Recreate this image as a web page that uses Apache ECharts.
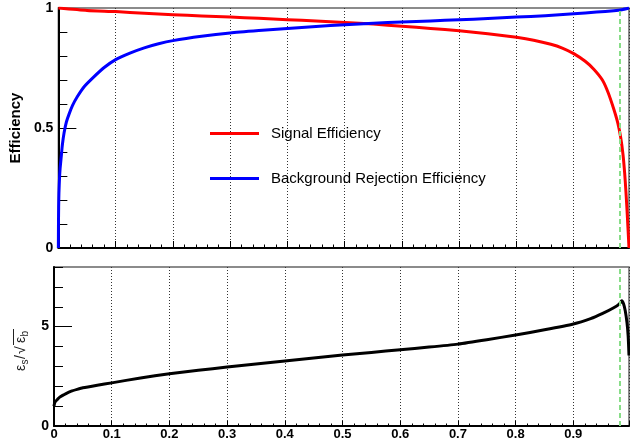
<!DOCTYPE html>
<html><head><meta charset="utf-8">
<script src="https://cdn.jsdelivr.net/npm/echarts@6/dist/echarts.min.js"></script>
<style>html,body{margin:0;padding:0;background:#fff}#c{width:630px;height:446px}</style>
</head><body><div id="c"></div>
<script>
// ---- data ----
const legendNames = ['Signal Efficiency', 'Background Rejection Efficiency'];
const xMax = 0.9965;
const cutValue = 0.984;
const yTopLabels = ['0', '0.5', '1'];
const yBottomLabels = ['0', '5'];
const signalEff = [
  [0,1.0],[0.05,0.99],[0.1,0.985],[0.15,0.978],[0.2,0.972],[0.25,0.967],[0.3,0.962],
  [0.35,0.957],[0.4,0.951],[0.45,0.946],[0.5,0.94],[0.55,0.933],[0.6,0.924],[0.65,0.915],
  [0.7,0.905],[0.75,0.893],[0.8,0.878],[0.83,0.866],[0.86,0.849],[0.88,0.833],[0.9,0.81],
  [0.92,0.778],[0.935,0.745],[0.95,0.70],[0.96,0.648],[0.97,0.578],[0.977,0.52],[0.982,0.46],
  [0.986,0.39],[0.989,0.31],[0.991,0.24],[0.993,0.16],[0.995,0.07],[0.9965,0.0]
];
const bkgRejEff = [
  [0,0],[0.0002,0.1],[0.0005,0.17],[0.001,0.23],[0.002,0.29],[0.003,0.33],[0.005,0.38],
  [0.007,0.43],[0.01,0.48],[0.014,0.525],[0.019,0.56],[0.025,0.595],[0.033,0.63],[0.045,0.672],
  [0.062,0.713],[0.08,0.752],[0.1,0.785],[0.125,0.812],[0.15,0.834],[0.175,0.851],[0.2,0.864],
  [0.25,0.882],[0.3,0.896],[0.35,0.906],[0.4,0.915],[0.45,0.923],[0.5,0.93],[0.55,0.936],
  [0.6,0.942],[0.65,0.946],[0.7,0.951],[0.75,0.956],[0.8,0.962],[0.85,0.968],[0.9,0.976],
  [0.94,0.983],[0.97,0.989],[0.984,0.993],[0.9965,1.0]
];
const significance = [
  [0,1.0],[0.001,1.15],[0.003,1.25],[0.006,1.34],[0.01,1.45],[0.015,1.54],[0.02,1.62],
  [0.03,1.75],[0.04,1.84],[0.05,1.92],[0.075,2.05],[0.1,2.17],[0.15,2.42],[0.2,2.63],
  [0.25,2.8],[0.3,2.97],[0.35,3.12],[0.4,3.27],[0.45,3.42],[0.5,3.57],[0.55,3.7],
  [0.6,3.84],[0.65,3.97],[0.7,4.12],[0.75,4.34],[0.8,4.58],[0.85,4.84],[0.9,5.13],
  [0.93,5.4],[0.95,5.65],[0.97,5.95],[0.98,6.15],[0.984,6.3],[0.987,6.15],[0.99,5.8],
  [0.993,5.2],[0.995,4.55],[0.9965,3.55]
];
// --------------------------------------

const FONT = 'Liberation Sans';
const chart = echarts.init(document.getElementById('c'), null, {renderer:'canvas'});
const dotted = {color:'#333', width:1, type:[1,2]};
function xAxisCfg(gridIndex, showLabels, tickLen){
  return {
    type:'value', gridIndex, min:0, max:xMax, interval:0.1,
    axisLine:{show:true, lineStyle:{color:'#000', width:2}},
    axisTick:{show:true, inside:true, length:tickLen, lineStyle:{color:'#000', width:1}},
    minorTick:{show:true, splitNumber:5, length:tickLen/2, lineStyle:{color:'#000', width:1}},
    splitLine:{show:true, lineStyle:dotted},
    axisLabel:{show:showLabels, color:'#000', fontFamily:FONT, fontWeight:'bold', fontSize:13, margin:2,
      showMaxLabel:false,
      formatter:v => v > 0.95 ? '' : (Math.round(v*10)/10).toString()}
  };
}
const greenLine = {
  silent:true, symbol:'none', label:{show:false},
  lineStyle:{color:'#88dd88', width:2, type:[5,3]},
  data:[{xAxis:cutValue}]
};
chart.setOption({
  animation:false,
  backgroundColor:'#fff',
  grid:[
    {left:54, right:1, top:8, height:240, show:true, borderColor:'#666', borderWidth:1.5},
    {left:54, right:1, top:267, height:159, show:true, borderColor:'#666', borderWidth:1.5}
  ],
  xAxis:[ xAxisCfg(0,false,7), xAxisCfg(1,true,5) ],
  yAxis:[
    { type:'value', gridIndex:0, min:0, max:1, interval:0.5, position:'left',
      name:'Efficiency', nameLocation:'middle', nameGap:28, nameRotate:90,
      nameTextStyle:{fontFamily:FONT, fontWeight:'bold', fontSize:15, color:'#000'},
      axisLine:{show:true, lineStyle:{color:'#000', width:2}},
      axisTick:{show:true, inside:true, length:18, lineStyle:{color:'#000'}},
      minorTick:{show:true, splitNumber:5, length:9, lineStyle:{color:'#000'}},
      splitLine:{show:false},
      axisLabel:{color:'#000', fontFamily:FONT, fontWeight:'bold', fontSize:14, margin:5,
        formatter:v => v===0 ? yTopLabels[0] : (v===1 ? yTopLabels[2] : yTopLabels[1])}
    },
    { type:'value', gridIndex:1, min:0, max:8, interval:1, position:'left',
      axisLine:{show:true, lineStyle:{color:'#000', width:2}},
      axisTick:{show:true, inside:true, length:9, lineStyle:{color:'#000'}},
      splitLine:{show:false}, axisLabel:{show:false}
    },
    { type:'value', gridIndex:1, min:0, max:8, interval:5, position:'left', offset:0,
      axisLine:{show:false},
      axisTick:{show:true, inside:true, length:18, lineStyle:{color:'#000'}, customValues:[0,5]},
      splitLine:{show:false},
      axisLabel:{color:'#000', fontFamily:FONT, fontWeight:'bold', fontSize:14, margin:5,
        customValues:[0,5], formatter:v => v===0 ? yBottomLabels[0] : yBottomLabels[1]}
    }
  ],
  legend:{
    orient:'vertical', left:205, top:121, itemWidth:49, itemHeight:3, itemGap:30,
    icon:'rect', data:legendNames,
    textStyle:{fontFamily:FONT, fontSize:15, color:'#000', padding:[0,0,0,7]}
  },
  series:[
    { name:legendNames[0], type:'line', xAxisIndex:0, yAxisIndex:0, data:signalEff,
      symbol:'none', smooth:0.2, lineStyle:{color:'#ff0000', width:3, join:'round'}, itemStyle:{color:'#ff0000'},
      z:3, markLine:greenLine },
    { name:legendNames[1], type:'line', xAxisIndex:0, yAxisIndex:0, data:bkgRejEff,
      symbol:'none', smooth:0.2, lineStyle:{color:'#0000ff', width:3, join:'round'}, itemStyle:{color:'#0000ff'}, z:3 },
    { name:'significance', type:'line', xAxisIndex:1, yAxisIndex:1, data:significance,
      symbol:'none', smooth:0.2, lineStyle:{color:'#000', width:3, join:'round'}, itemStyle:{color:'#000'},
      z:3, markLine:greenLine }
  ],
  graphic:[
    { type:'group', x:21, y:371, rotation:Math.PI/2, children:[
      {type:'text', x:0, y:0, style:{text:'ε', fontFamily:FONT, fontSize:14, fill:'#222', verticalAlign:'middle'}},
      {type:'text', x:6.5, y:4, style:{text:'s', fontFamily:FONT, fontSize:10, fill:'#222', verticalAlign:'middle'}},
      {type:'text', x:12, y:0, style:{text:'/', fontFamily:FONT, fontSize:14, fill:'#222', verticalAlign:'middle'}},
      {type:'text', x:17, y:0, style:{text:'√', fontFamily:FONT, fontSize:14, fill:'#222', verticalAlign:'middle'}},
      {type:'text', x:28, y:0, style:{text:'ε', fontFamily:FONT, fontSize:14, fill:'#222', verticalAlign:'middle'}},
      {type:'text', x:34.5, y:4, style:{text:'b', fontFamily:FONT, fontSize:10, fill:'#222', verticalAlign:'middle'}},
      {type:'line', shape:{x1:26, y1:-7.5, x2:42, y2:-7.5}, style:{stroke:'#222', lineWidth:1}}
    ]}
  ]
});
</script></body></html>
